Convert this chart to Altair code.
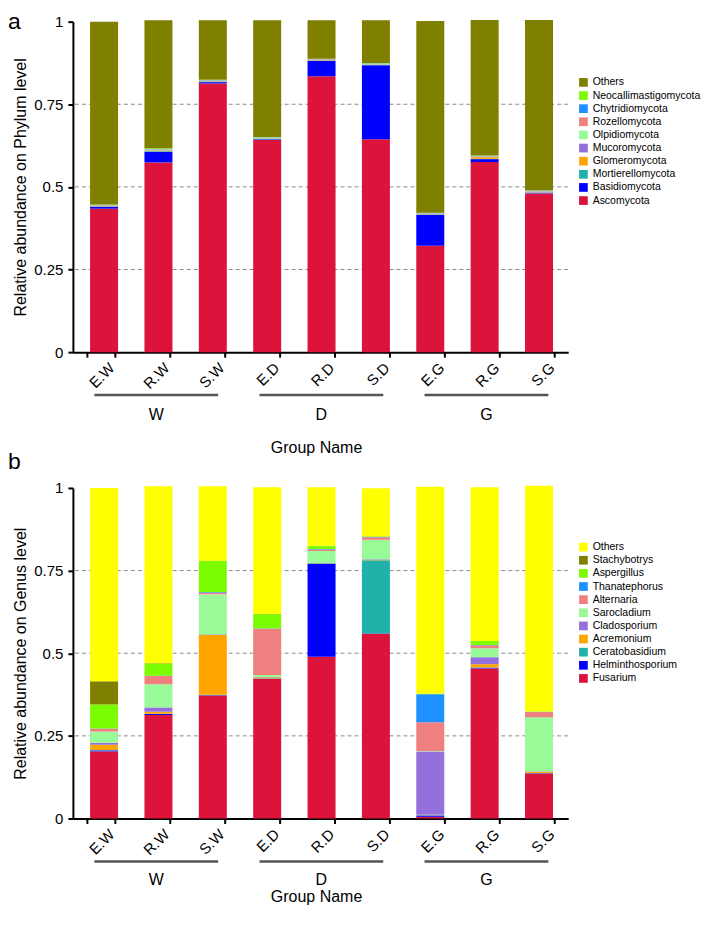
import altair as alt
import pandas as pd

FONT = "Liberation Sans"

samples = ["E.W", "R.W", "S.W", "E.D", "R.D", "S.D", "E.G", "R.G", "S.G"]
group_names = ["W", "D", "G"]
group_first = ["E.W", "E.D", "E.G"]
group_last = ["S.W", "S.D", "S.G"]
y_ticks = [0, 0.25, 0.5, 0.75, 1]
grid_values = [0.25, 0.5, 0.75]

# ---- Phylum level (stack order bottom -> top) ----
phyla = ["Ascomycota", "Basidiomycota", "Mortierellomycota", "Glomeromycota",
         "Mucoromycota", "Olpidiomycota", "Rozellomycota", "Chytridiomycota",
         "Neocallimastigomycota", "Others"]
phylum_colors = ["#DC143C", "#0000FF", "#20B2AA", "#FFA500", "#9370DB",
                 "#98FB98", "#F08080", "#1E90FF", "#7CFC00", "#808000"]
ascomycota = [0.434, 0.574, 0.813, 0.642, 0.835, 0.644, 0.322, 0.575, 0.480]
basidiomycota = [0.006, 0.032, 0.004, 0.002, 0.046, 0.224, 0.093, 0.009, 0.001]
mortierellomycota = [0.001, 0.002, 0.001, 0.001, 0.001, 0.001, 0.001, 0.001, 0.001]
glomeromycota = [0.001, 0.002, 0.001, 0.001, 0.001, 0.001, 0.001, 0.005, 0.001]
mucoromycota = [0.001, 0.001, 0.001, 0.001, 0.001, 0.001, 0.001, 0.001, 0.003]
olpidiomycota = [0.001, 0.002, 0.001, 0.001, 0.001, 0.001, 0.001, 0.001, 0.001]
rozellomycota = [0.001, 0.001, 0.001, 0.001, 0.001, 0.001, 0.001, 0.001, 0.001]
chytridiomycota = [0.001, 0.001, 0.001, 0.001, 0.001, 0.001, 0.001, 0.001, 0.001]
neocallimastigomycota = [0.001, 0.002, 0.001, 0.001, 0.001, 0.001, 0.001, 0.001, 0.001]
others_phylum = [0.553, 0.387, 0.180, 0.353, 0.116, 0.129, 0.580, 0.410, 0.515]
phylum_series = [ascomycota, basidiomycota, mortierellomycota, glomeromycota,
                 mucoromycota, olpidiomycota, rozellomycota, chytridiomycota,
                 neocallimastigomycota, others_phylum]

# ---- Genus level (stack order bottom -> top) ----
genera = ["Fusarium", "Helminthosporium", "Ceratobasidium", "Acremonium",
          "Cladosporium", "Sarocladium", "Alternaria", "Thanatephorus",
          "Aspergillus", "Stachybotrys", "Others"]
genus_colors = ["#DC143C", "#0000FF", "#20B2AA", "#FFA500", "#9370DB",
                "#98FB98", "#F08080", "#1E90FF", "#7CFC00", "#808000", "#FFFF00"]
fusarium = [0.203, 0.313, 0.372, 0.422, 0.489, 0.559, 0.005, 0.454, 0.136]
helminthosporium = [0.003, 0.003, 0.001, 0.001, 0.282, 0.001, 0.004, 0.002, 0.001]
ceratobasidium = [0.001, 0.001, 0.001, 0.001, 0.001, 0.221, 0.001, 0.001, 0.001]
acremonium = [0.016, 0.006, 0.181, 0.003, 0.001, 0.001, 0.001, 0.010, 0.004]
cladosporium = [0.006, 0.013, 0.002, 0.001, 0.001, 0.002, 0.192, 0.021, 0.001]
sarocladium = [0.034, 0.070, 0.121, 0.006, 0.035, 0.059, 0.001, 0.027, 0.163]
alternaria = [0.008, 0.025, 0.005, 0.140, 0.005, 0.008, 0.087, 0.009, 0.016]
thanatephorus = [0.001, 0.001, 0.002, 0.001, 0.001, 0.001, 0.085, 0.001, 0.001]
aspergillus = [0.073, 0.037, 0.094, 0.043, 0.010, 0.002, 0.001, 0.012, 0.001]
stachybotrys = [0.070, 0.001, 0.001, 0.001, 0.000, 0.000, 0.000, 0.000, 0.000]
others_genus = [0.585, 0.535, 0.225, 0.383, 0.177, 0.145, 0.627, 0.465, 0.683]
genus_series = [fusarium, helminthosporium, ceratobasidium, acremonium,
                cladosporium, sarocladium, alternaria, thanatephorus,
                aspergillus, stachybotrys, others_genus]

W, H = 496, 331


def panel(taxa, colors, series, ytitle, letter, legend_x, legend_y,
          line_y, glabel_y, gname_y, letter_y):
    rows = []
    for rank, (name, vals) in enumerate(zip(taxa, series)):
        for s, v in zip(samples, vals):
            rows.append({"sample": s, "taxon": name, "value": v, "rank": rank})
    df = pd.DataFrame(rows)
    yscale = alt.Scale(domain=[0, 1], nice=False, zero=True)
    yaxis = alt.Axis(title=ytitle, values=y_ticks,
                     labelExpr="'' + datum.value", labelFontSize=15,
                     titleFontSize=16, titleFontWeight="normal",
                     titlePadding=5, labelPadding=5, grid=False,
                     domainColor="black", domainWidth=2,
                     tickColor="black", tickWidth=2, tickSize=5)
    xaxis = alt.Axis(title=None, labelAngle=-45, labelAlign="right",
                     labelBaseline="top", labelFontSize=15,
                     labelPadding=3, labelOffset=6, tickBand="extent",
                     domainColor="black", domainWidth=2,
                     tickColor="black", tickWidth=2, tickSize=5)

    grid = alt.Chart(pd.DataFrame({"value": grid_values})).mark_rule(
        color="#8c8c8c", strokeDash=[4, 3], strokeWidth=1
    ).encode(y=alt.Y("value:Q", scale=yscale, axis=yaxis))

    # axis carrier (invisible), band scale over the full plot width
    axis_layer = alt.Chart(pd.DataFrame({"sample": samples})).mark_point(
        opacity=0).encode(
        x=alt.X("sample:N", sort=samples, axis=xaxis,
                scale=alt.Scale(type="band", paddingInner=0.49,
                                paddingOuter=0.245)))

    bars = alt.Chart(df).mark_bar().encode(
        x=alt.X("sample:N", sort=samples, axis=None,
                scale=alt.Scale(paddingInner=0.485, paddingOuter=0.2425,
                                range=[4, W - 2])),
        y=alt.Y("value:Q", stack="zero", scale=yscale, axis=yaxis),
        color=alt.Color("taxon:N",
                        scale=alt.Scale(domain=taxa[::-1], range=colors[::-1]),
                        legend=alt.Legend(title=None, orient="none",
                                          legendX=legend_x, legendY=legend_y,
                                          symbolType="square", symbolSize=76,
                                          symbolStrokeWidth=0,
                                          labelFontSize=10.5,
                                          labelOffset=4, rowPadding=2.15,
                                          padding=0, labelColor="black")),
        order=alt.Order("rank:Q", sort="ascending"),
    )

    gdf = pd.DataFrame({
        "group": group_names,
        "start": [samples.index(f) + 0.39 for f in group_first],
        "end": [samples.index(l) + 0.64 for l in group_last],
    })
    gdf["mid"] = (gdf["start"] + gdf["end"]) / 2
    xq = alt.Scale(domain=[0, len(samples)], nice=False, zero=False)

    lines = alt.Chart(gdf).mark_rule(color="#555555", strokeWidth=2.5).encode(
        x=alt.X("start:Q", scale=xq, axis=None), x2="end:Q",
        y=alt.value(line_y))
    glabels = alt.Chart(gdf).mark_text(fontSize=16, baseline="middle").encode(
        x=alt.X("mid:Q", scale=xq, axis=None), y=alt.value(glabel_y),
        text="group:N")
    gname = alt.Chart(pd.DataFrame({"t": ["Group Name"]})).mark_text(
        fontSize=16, baseline="middle").encode(
        x=alt.value(W / 2 - 4), y=alt.value(gname_y), text="t:N")
    let = alt.Chart(pd.DataFrame({"t": [letter]})).mark_text(
        fontSize=23, align="left", baseline="alphabetic").encode(
        x=alt.value(-65), y=alt.value(letter_y), text="t:N")

    return alt.layer(grid, axis_layer, bars, lines, glabels, gname,
                     let).resolve_scale(x="independent").properties(
        width=W, height=H)


pa = panel(phyla, phylum_colors, phylum_series,
           "Relative abundance on Phylum level", "a",
           506, 55.6, 374, 394, 427, 7)
pb = panel(genera, genus_colors, genus_series,
           "Relative abundance on Genus level", "b",
           506, 54, 374, 393, 410, -19)

chart = alt.vconcat(pa, pb, spacing=136, bounds="flush").resolve_scale(
    color="independent").properties(
    padding={"left": 0, "top": 2, "right": 0, "bottom": 0}
).configure(font=FONT).configure_view(stroke=None).configure_axis(
    labelFont=FONT, titleFont=FONT, labelColor="black", titleColor="black"
).configure_text(font=FONT, color="black").configure_legend(labelFont=FONT)

chart.save("out.html", embed_options={"renderer": "svg", "actions": False})
